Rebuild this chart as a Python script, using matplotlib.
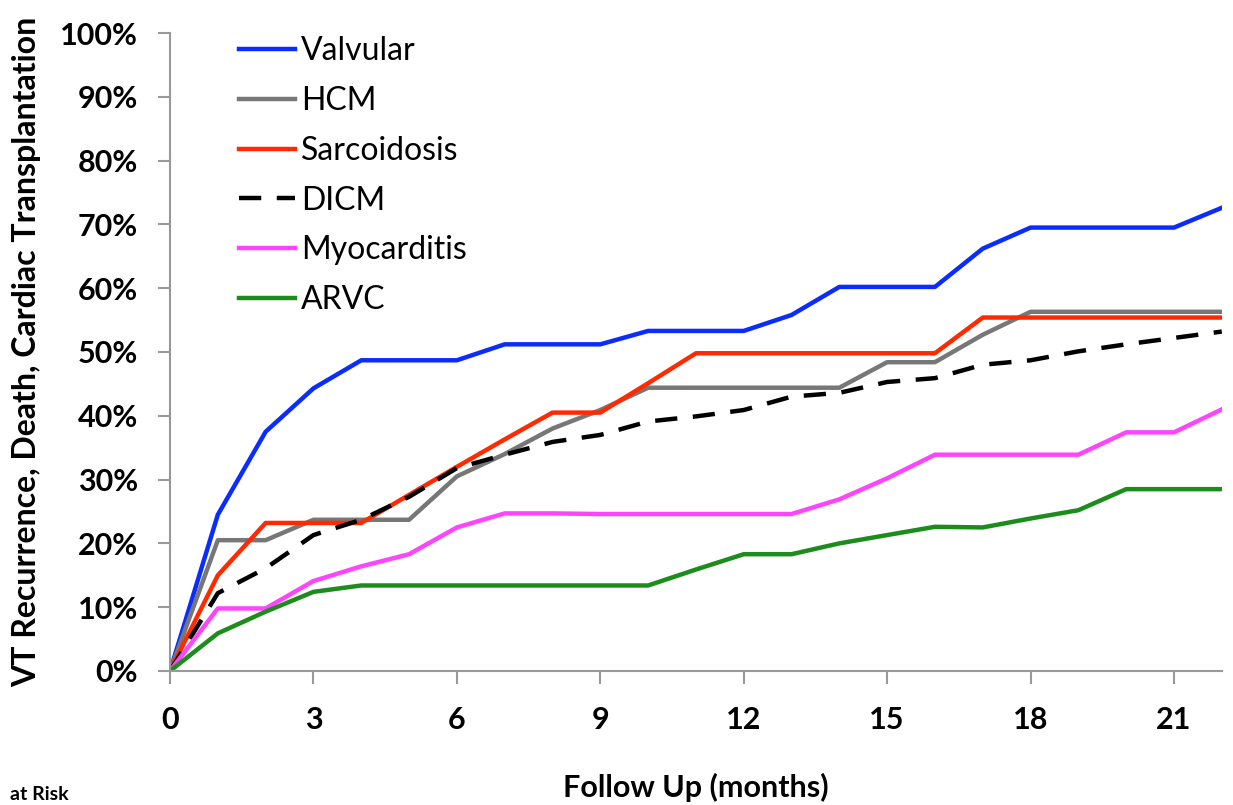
import numpy as np
import matplotlib.pyplot as plt
from matplotlib.ticker import PercentFormatter

months = list(range(23))

valvular = [0, 24.5, 37.5, 44.3, 48.7, 48.7, 48.7, 51.2, 51.2, 51.2, 53.3, 53.3,
            53.3, 55.8, 60.2, 60.2, 60.2, 66.2, 69.5, 69.5, 69.5, 69.5, 72.6]
hcm = [0, 20.5, 20.5, 23.7, 23.7, 23.7, 30.5, 34.0, 38.0, 40.9, 44.4, 44.4,
       44.4, 44.4, 44.4, 48.4, 48.4, 52.7, 56.3, 56.3, 56.3, 56.3, 56.3]
sarcoidosis = [0, 15.0, 23.2, 23.2, 23.2, 27.6, 32.0, 36.3, 40.5, 40.5, 45.1, 49.8,
               49.8, 49.8, 49.8, 49.8, 49.8, 55.4, 55.4, 55.4, 55.4, 55.4, 55.4]
dicm = [0, 12.2, 16.1, 21.3, 23.7, 27.3, 31.8, 33.9, 35.9, 37.0, 39.1, 39.9,
        40.9, 43.0, 43.6, 45.3, 45.9, 48.0, 48.7, 50.1, 51.2, 52.2, 53.2]
myocarditis = [0, 9.8, 9.8, 14.1, 16.4, 18.3, 22.5, 24.7, 24.7, 24.6, 24.6, 24.6,
               24.6, 24.6, 26.9, 30.2, 33.9, 33.9, 33.9, 33.9, 37.4, 37.4, 41.0]
arvc = [0, 5.9, 9.3, 12.4, 13.4, 13.4, 13.4, 13.4, 13.4, 13.4, 13.4, 15.9,
        18.3, 18.3, 20.0, 21.3, 22.6, 22.5, 23.9, 25.2, 28.5, 28.5, 28.5]

series = [
    ("Valvular", valvular, "#0a2cff", "-"),
    ("HCM", hcm, "#777777", "-"),
    ("Sarcoidosis", sarcoidosis, "#ff2a00", "-"),
    ("DICM", dicm, "black", (0, (5, 3.5))),
    ("Myocarditis", myocarditis, "#ff44ff", "-"),
    ("ARVC", arvc, "#1c8c1c", "-"),
]

plt.rcParams['font.family'] = ['Lato', 'DejaVu Sans']

fig = plt.figure(figsize=(12.33, 8.05), dpi=100)
ax = fig.add_axes([0.1379, 0.1665, 0.853, 0.7925])

for name, vals, col, ls in series:
    ax.plot(months, np.array(vals) / 100, color=col, linestyle=ls, lw=3.2, label=name,
            solid_joinstyle='round')

ax.set_xlim(0, 22)
ax.set_ylim(0, 1)
ax.set_xticks(range(0, 22, 3))
ax.set_yticks(np.arange(0, 1.01, 0.1))
ax.yaxis.set_major_formatter(PercentFormatter(1.0, decimals=0))

for s in ['top', 'right']:
    ax.spines[s].set_visible(False)
for s in ['left', 'bottom']:
    ax.spines[s].set_color('#999999')
    ax.spines[s].set_linewidth(1.5)
ax.tick_params(axis='both', colors='#999999', width=1.5, length=9, direction='out')
ax.tick_params(axis='both', labelcolor='black', labelsize=22)
ax.tick_params(axis='x', pad=16)
ax.tick_params(axis='y', pad=14)
for lab in ax.get_xticklabels() + ax.get_yticklabels():
    lab.set_fontweight('bold')

ax.set_xlabel("Follow Up (months)", fontsize=22, fontweight='bold', labelpad=28)
ax.set_ylabel("VT Recurrence, Death, Cardiac Transplantation", fontsize=23,
              fontweight='bold', labelpad=14)

leg = ax.legend(loc='upper left', bbox_to_anchor=(0.038, 1.04), frameon=False,
                fontsize=23, handlelength=1.75, handletextpad=0.2, labelspacing=0.62)

fig.text(0.008, 0.002, "at Risk", fontsize=14, fontweight='bold', va='bottom')

plt.savefig('out.png', dpi=100)
